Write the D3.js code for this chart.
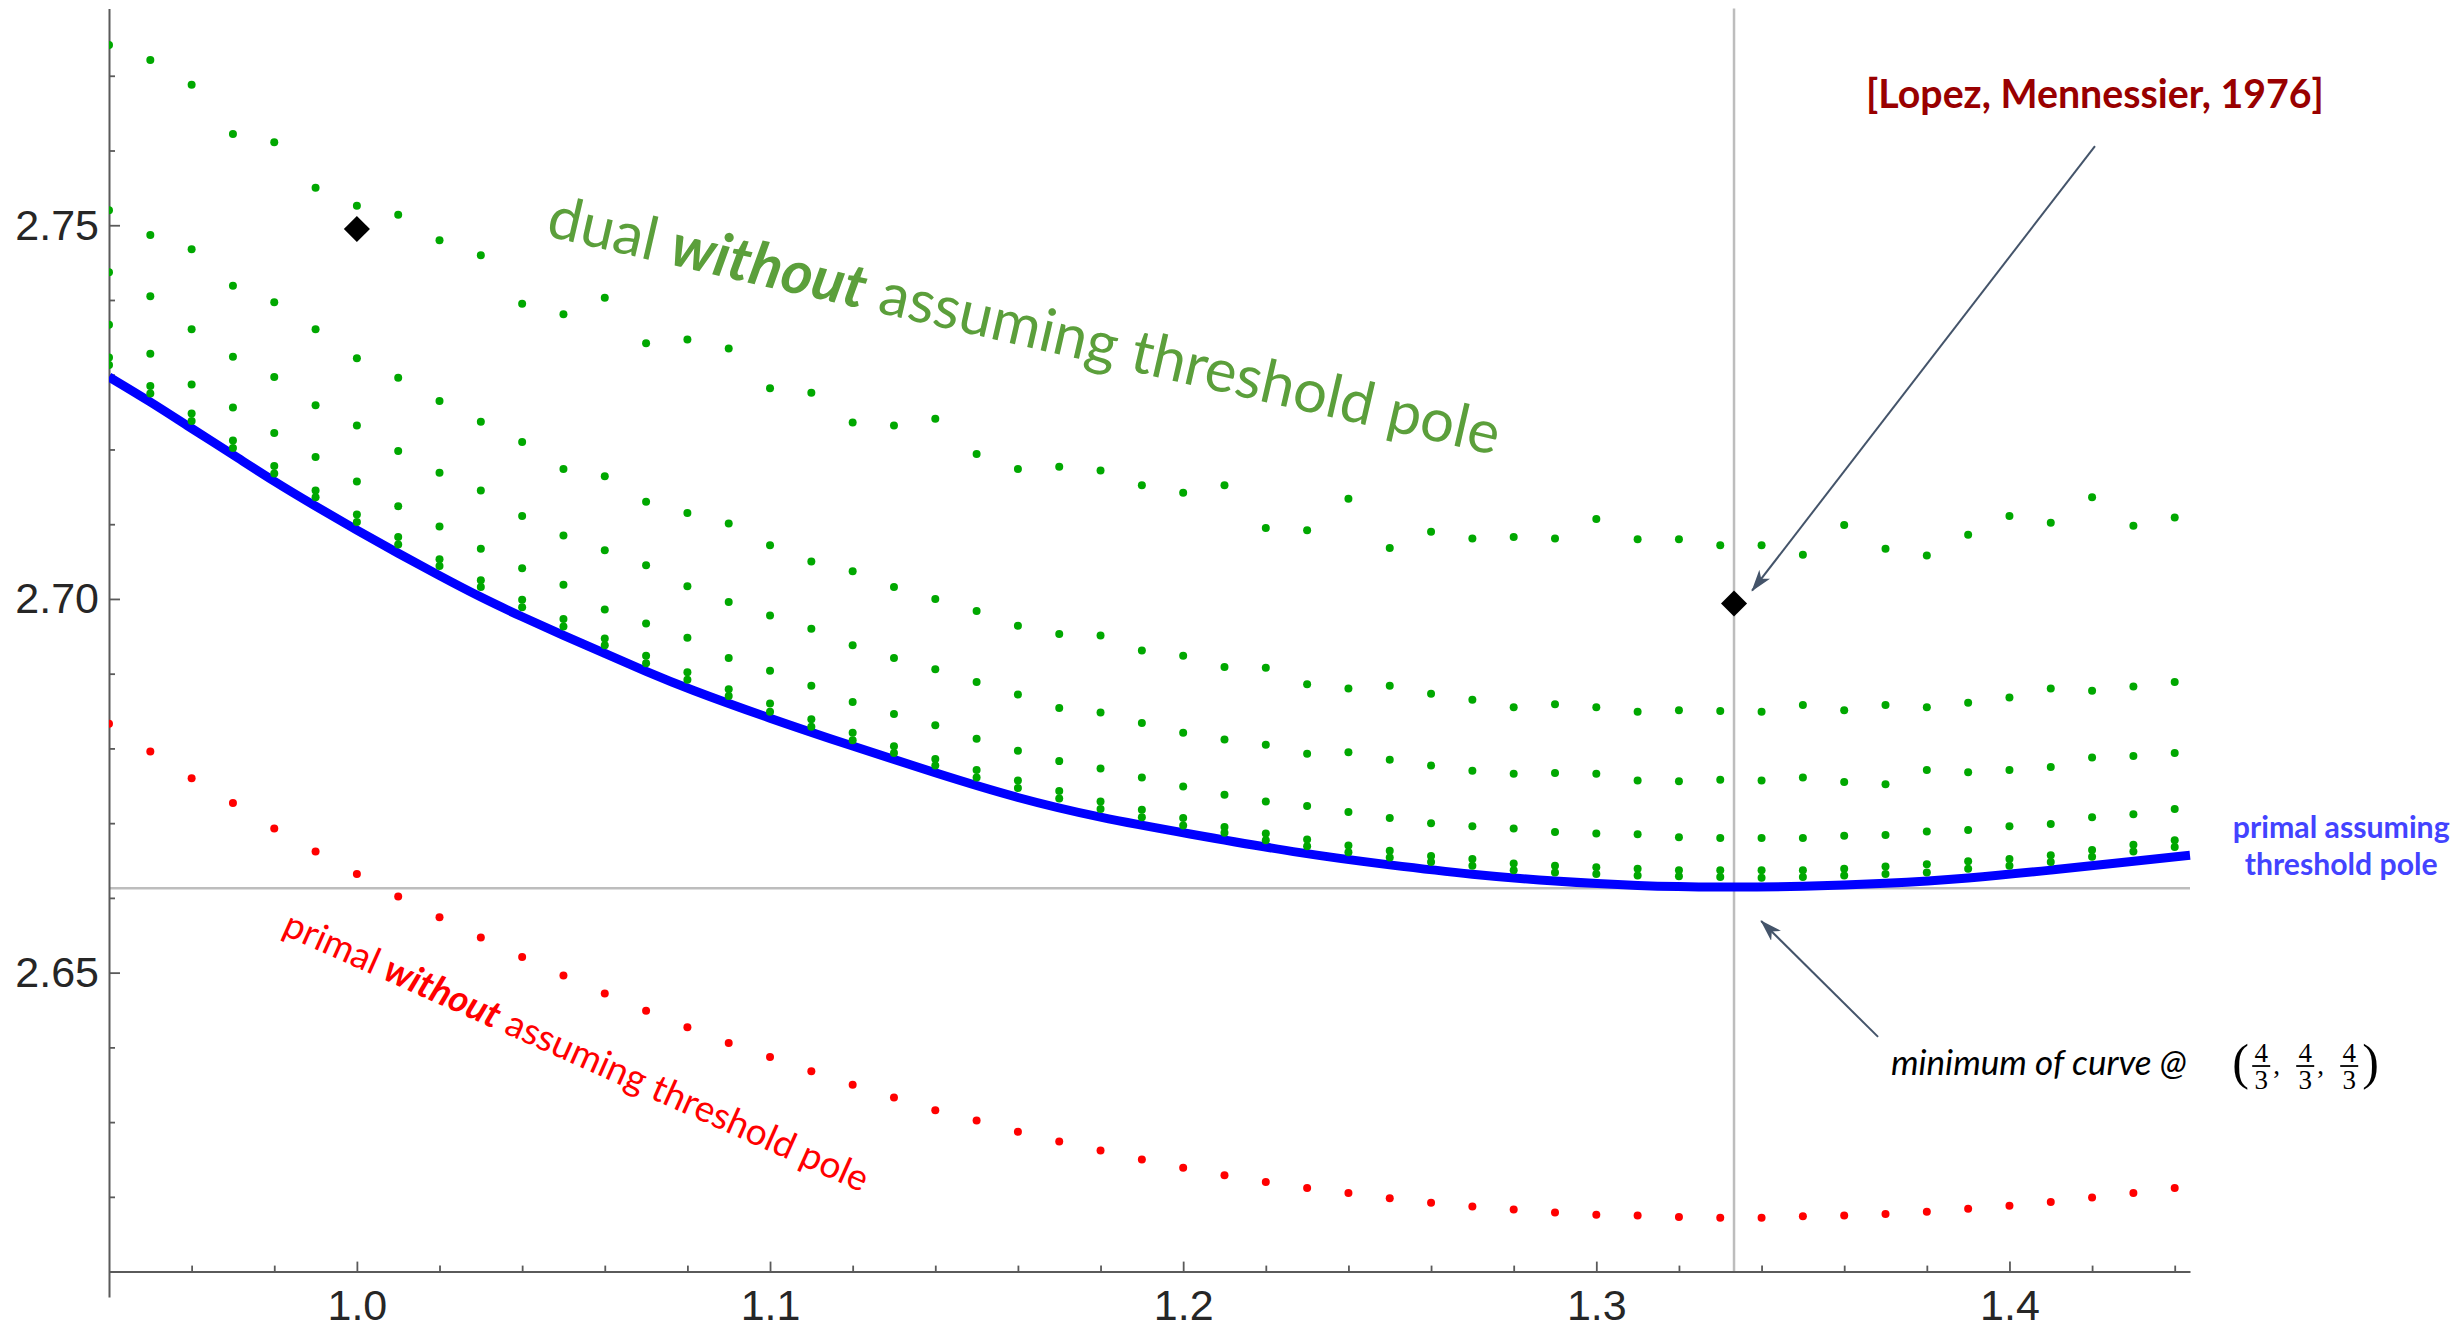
<!DOCTYPE html>
<html>
<head>
<meta charset="utf-8">
<script src="https://cdn.jsdelivr.net/npm/d3@7"></script>
<style>
  html, body { margin: 0; padding: 0; background: #fff; }
  svg { display: block; }
</style>
</head>
<body>
<div id="chart"></div>
<script>
// x grid shared by all dotted series
var xGrid = [0.94, 0.95, 0.96, 0.97, 0.98, 0.99, 1.00, 1.01, 1.02, 1.03,
             1.04, 1.05, 1.06, 1.07, 1.08, 1.09, 1.10, 1.11, 1.12, 1.13,
             1.14, 1.15, 1.16, 1.17, 1.18, 1.19, 1.20, 1.21, 1.22, 1.23,
             1.24, 1.25, 1.26, 1.27, 1.28, 1.29, 1.30, 1.31, 1.32, 1.33,
             1.34, 1.35, 1.36, 1.37, 1.38, 1.39, 1.40, 1.41, 1.42, 1.43, 1.44];

// dual bounds without threshold pole, top (coarsest) to bottom
var dual1 = [2.7741, 2.7721, 2.7688, 2.7622, 2.7611, 2.7550, 2.7526, 2.7514, 2.7480, 2.7460,
             2.7395, 2.7381, 2.7403, 2.7342, 2.7347, 2.7335, 2.7282, 2.7276, 2.7236, 2.7232,
             2.7241, 2.7194, 2.7174, 2.7177, 2.7172, 2.7152, 2.7142, 2.7152, 2.7095, 2.7092,
             2.7134, 2.7068, 2.7090, 2.7081, 2.7083, 2.7081, 2.7107, 2.7080, 2.7080, 2.7072,
             2.7072, 2.7059, 2.7099, 2.7067, 2.7058, 2.7086, 2.7111, 2.7102, 2.7136, 2.7098, 2.7109];
var dual2 = [2.7520, 2.7487, 2.7468, 2.7419, 2.7397, 2.7361, 2.7322, 2.7296, 2.7265, 2.7237,
             2.7210, 2.7174, 2.7164, 2.7130, 2.7115, 2.7101, 2.7072, 2.7050, 2.7037, 2.7016,
             2.7000, 2.6984, 2.6964, 2.6953, 2.6951, 2.6931, 2.6924, 2.6909, 2.6908, 2.6886,
             2.6880, 2.6884, 2.6873, 2.6865, 2.6855, 2.6859, 2.6855, 2.6849, 2.6851, 2.6850,
             2.6849, 2.6858, 2.6851, 2.6858, 2.6855, 2.6861, 2.6868, 2.6880, 2.6877, 2.6883, 2.6889];
var dual3 = [2.7437, 2.7405, 2.7361, 2.7324, 2.7297, 2.7259, 2.7232, 2.7198, 2.7169, 2.7145,
             2.7111, 2.7085, 2.7065, 2.7045, 2.7017, 2.6996, 2.6978, 2.6960, 2.6938, 2.6921,
             2.6906, 2.6889, 2.6872, 2.6854, 2.6848, 2.6834, 2.6821, 2.6812, 2.6805, 2.6793,
             2.6795, 2.6785, 2.6777, 2.6770, 2.6766, 2.6767, 2.6766, 2.6757, 2.6756, 2.6758,
             2.6757, 2.6761, 2.6755, 2.6752, 2.6771, 2.6768, 2.6771, 2.6775, 2.6788, 2.6790, 2.6794];
var dual4 = [2.7367, 2.7328, 2.7287, 2.7256, 2.7222, 2.7190, 2.7157, 2.7124, 2.7097, 2.7067,
             2.7041, 2.7019, 2.6986, 2.6967, 2.6948, 2.6921, 2.6904, 2.6884, 2.6862, 2.6846,
             2.6831, 2.6813, 2.6797, 2.6783, 2.6773, 2.6761, 2.6749, 2.6738, 2.6729, 2.6723,
             2.6715, 2.6707, 2.6700, 2.6696, 2.6693, 2.6688, 2.6686, 2.6685, 2.6681, 2.6680,
             2.6680, 2.6680, 2.6683, 2.6684, 2.6689, 2.6691, 2.6696, 2.6699, 2.6708, 2.6712, 2.6719];
var dual5 = [2.7323, 2.7285, 2.7248, 2.7212, 2.7178, 2.7145, 2.7113, 2.7083, 2.7053, 2.7025,
             2.6999, 2.6973, 2.6947, 2.6924, 2.6902, 2.6879, 2.6860, 2.6839, 2.6821, 2.6803,
             2.6786, 2.6771, 2.6757, 2.6743, 2.6729, 2.6718, 2.6707, 2.6695, 2.6686, 2.6678,
             2.6670, 2.6663, 2.6656, 2.6652, 2.6646, 2.6643, 2.6641, 2.6639, 2.6637, 2.6637,
             2.6637, 2.6637, 2.6639, 2.6642, 2.6645, 2.6649, 2.6652, 2.6657, 2.6664, 2.6671, 2.6677];
var dual6 = [2.7313, 2.7275, 2.7238, 2.7202, 2.7168, 2.7136, 2.7103, 2.7073, 2.7044, 2.7016,
             2.6989, 2.6963, 2.6938, 2.6914, 2.6892, 2.6870, 2.6849, 2.6829, 2.6811, 2.6794,
             2.6777, 2.6761, 2.6747, 2.6733, 2.6719, 2.6708, 2.6697, 2.6687, 2.6677, 2.6669,
             2.6661, 2.6654, 2.6648, 2.6643, 2.6637, 2.6634, 2.6632, 2.6630, 2.6629, 2.6628,
             2.6627, 2.6628, 2.6630, 2.6632, 2.6634, 2.6639, 2.6643, 2.6648, 2.6655, 2.6662, 2.6668];

// primal without threshold pole (red)
var primalNoPole = [2.6833, 2.6796, 2.6760, 2.6727, 2.6693, 2.6662, 2.6632, 2.6602, 2.6574, 2.6547,
                    2.6521, 2.6496, 2.6472, 2.6449, 2.6427, 2.6406, 2.6387, 2.6368, 2.6350, 2.6333,
                    2.6316, 2.6302, 2.6287, 2.6274, 2.6262, 2.6250, 2.6239, 2.6229, 2.6220, 2.6212,
                    2.6205, 2.6198, 2.6192, 2.6187, 2.6183, 2.6179, 2.6176, 2.6175, 2.6173, 2.6172,
                    2.6172, 2.6174, 2.6175, 2.6177, 2.6180, 2.6184, 2.6188, 2.6193, 2.6199, 2.6205, 2.6212];

// primal assuming threshold pole (blue curve)
var poleCurveX = [0.94, 0.95, 0.96, 0.97, 0.98, 0.99, 1.00, 1.01, 1.02, 1.03, 1.04, 1.05, 1.06, 1.07, 1.08,
                  1.10, 1.12, 1.14, 1.16, 1.18, 1.20, 1.23, 1.25, 1.27, 1.29, 1.31, 1.33, 1.35, 1.37,
                  1.39, 1.41, 1.43, 1.4437];
var poleCurveY = [2.7297, 2.7264, 2.7228, 2.7193, 2.7157, 2.7124, 2.7092, 2.7061, 2.7031, 2.7002, 2.6976,
                  2.6951, 2.6927, 2.6903, 2.6880, 2.6840, 2.6803, 2.6767, 2.6733, 2.6707, 2.6687, 2.6658,
                  2.6644, 2.6631, 2.6622, 2.6616, 2.6614, 2.6615, 2.6619, 2.6626, 2.6637, 2.6649, 2.6657];

var lopezX = [1.0, 4 / 3];
var lopezY = [2.7495, 2.6994];
var curveMinX = 4 / 3;
var curveMinY = 2.6613;

var xMajor = [1.0, 1.1, 1.2, 1.3, 1.4];
var xMinor = [0.96, 0.98, 1.02, 1.04, 1.06, 1.08, 1.12, 1.14, 1.16, 1.18, 1.22, 1.24, 1.26, 1.28,
              1.32, 1.34, 1.36, 1.38, 1.42, 1.44];
var yMajor = [2.65, 2.70, 2.75];
var yMinor = [2.62, 2.63, 2.64, 2.66, 2.67, 2.68, 2.69, 2.71, 2.72, 2.73, 2.74, 2.76, 2.77];

var width = 2464, height = 1330;
var x = d3.scaleLinear().domain([0.94, 1.4437]).range([109, 2190]);
var y = d3.scaleLinear().domain([2.6066, 2.779]).range([1297, 8.5]);
var xAxisAt = 2.61;

var svg = d3.select('#chart').append('svg').attr('width', width).attr('height', height).style('background', '#fff');

var defs = svg.append('defs');
defs.append('clipPath').attr('id', 'plot-clip').append('rect')
    .attr('x', x(0.94)).attr('y', 0).attr('width', x(1.4437) - x(0.94) + 10).attr('height', y(2.6066));
defs.append('marker').attr('id', 'arrow').attr('viewBox', '0 0 22 14').attr('refX', 21).attr('refY', 7)
    .attr('markerWidth', 22).attr('markerHeight', 14).attr('markerUnits', 'userSpaceOnUse').attr('orient', 'auto')
    .append('path').attr('d', 'M0,0 L22,7 L0,14 L6,7 Z').attr('fill', '#44546a');

// reference lines through the curve minimum
svg.append('line').attr('x1', x(0.94)).attr('x2', x(1.4437)).attr('y1', y(curveMinY)).attr('y2', y(curveMinY))
    .attr('stroke', '#bdbdbd').attr('stroke-width', 2.5);
svg.append('line').attr('x1', x(curveMinX)).attr('x2', x(curveMinX)).attr('y1', y(2.779)).attr('y2', y(xAxisAt))
    .attr('stroke', '#bdbdbd').attr('stroke-width', 2.5);

// axes
var axisFont = '"Liberation Sans", Arial, sans-serif';
var gx = svg.append('g').attr('transform', 'translate(0,' + y(xAxisAt) + ')');
gx.call(d3.axisBottom(x).tickValues(xMajor).tickSize(-10).tickSizeOuter(0).tickPadding(18).tickFormat(d3.format('.1f')));
gx.append('g').call(d3.axisBottom(x).tickValues(xMinor).tickSize(-6).tickSizeOuter(0).tickFormat(''))
    .select('.domain').remove();
var gy = svg.append('g').attr('transform', 'translate(' + x(0.94) + ',0)');
gy.call(d3.axisLeft(y).tickValues(yMajor).tickSize(-11).tickSizeOuter(0).tickPadding(10).tickFormat(d3.format('.2f')));
gy.append('g').call(d3.axisLeft(y).tickValues(yMinor).tickSize(-6).tickSizeOuter(0).tickFormat(''))
    .select('.domain').remove();
svg.selectAll('.domain').attr('stroke', '#5a5a5a').attr('stroke-width', 2);
svg.selectAll('.tick line').attr('stroke', '#5a5a5a').attr('stroke-width', 1.8);
svg.selectAll('.tick text').attr('font-family', axisFont).attr('font-size', 43).attr('fill', '#262626');

var plot = svg.append('g').attr('clip-path', 'url(#plot-clip)');

// blue curve
var curvePts = poleCurveX.map(function(d, i) { return [d, poleCurveY[i]]; });
plot.append('path').datum(curvePts)
    .attr('d', d3.line().x(function(d) { return x(d[0]); }).y(function(d) { return y(d[1]); }).curve(d3.curveBasis))
    .attr('fill', 'none').attr('stroke', '#0000ff').attr('stroke-width', 9);

// dotted series
function drawDots(values, color) {
    plot.append('g').selectAll('circle').data(values).enter().append('circle')
        .attr('cx', function(d, i) { return x(xGrid[i]); })
        .attr('cy', function(d) { return y(d); })
        .attr('r', 4).attr('fill', color);
}
[dual1, dual2, dual3, dual4, dual5, dual6].forEach(function(s) { drawDots(s, '#00a800'); });
drawDots(primalNoPole, '#ff0000');

// Lopez & Mennessier points
svg.selectAll('.lopez').data(lopezX).enter().append('path').attr('class', 'lopez')
    .attr('d', d3.symbol().type(d3.symbolSquare).size(340))
    .attr('transform', function(d, i) { return 'translate(' + x(d) + ',' + y(lopezY[i]) + ') rotate(45)'; })
    .attr('fill', '#000');

// annotations
var labelFont = 'Lato, "Open Sans", sans-serif';
function fit(sel, target) {
    var w = sel.node().getComputedTextLength();
    if (w > 0) sel.attr('font-size', +sel.attr('font-size') * target / w);
}

var lopezLab = svg.append('text').attr('x', x(1.4207)).attr('y', y(2.7657)).attr('text-anchor', 'middle')
    .attr('font-family', labelFont).attr('font-weight', 'bold').attr('font-size', 40).attr('fill', '#990000')
    .text('[Lopez, Mennessier, 1976]');
fit(lopezLab, 458);
svg.append('line').attr('x1', x(1.4207)).attr('y1', y(2.7606)).attr('x2', x(1.3377)).attr('y2', y(2.7011))
    .attr('stroke', '#44546a').attr('stroke-width', 2).attr('marker-end', 'url(#arrow)');

svg.append('line').attr('x1', x(1.3682)).attr('y1', y(2.6414)).attr('x2', x(1.3399)).attr('y2', y(2.6569))
    .attr('stroke', '#44546a').attr('stroke-width', 2).attr('marker-end', 'url(#arrow)');
var minLab = svg.append('text').attr('x', x(1.3713)).attr('y', y(2.6363))
    .attr('font-family', labelFont).attr('font-style', 'italic').attr('font-size', 30).attr('fill', '#000')
    .text('minimum of curve @');
fit(minLab, 296);

// (4/3, 4/3, 4/3)
var mathFont = '"Liberation Serif", "DejaVu Serif", serif';
var mg = svg.append('g').attr('transform', 'translate(' + x(1.4544) + ',' + y(2.6359) + ')')
    .attr('font-family', mathFont).attr('fill', '#000');
mg.append('text').attr('x', -2).attr('y', 1).attr('font-size', 50).text('(');
[27, 71, 115].forEach(function(cx, i) {
    mg.append('text').attr('x', cx).attr('y', -16).attr('text-anchor', 'middle').attr('font-size', 27).text('4');
    mg.append('line').attr('x1', cx - 9).attr('x2', cx + 9).attr('y1', -12).attr('y2', -12).attr('stroke', '#000').attr('stroke-width', 1.8);
    mg.append('text').attr('x', cx).attr('y', 11).attr('text-anchor', 'middle').attr('font-size', 27).text('3');
    if (i < 2) mg.append('text').attr('x', cx + 12).attr('y', -4).attr('font-size', 27).text(',');
});
mg.append('text').attr('x', 128).attr('y', 1).attr('font-size', 50).text(')');

var blueLab1 = svg.append('text').attr('x', x(1.4803)).attr('y', y(2.6680)).attr('text-anchor', 'middle')
    .attr('font-family', labelFont).attr('font-weight', 'bold').attr('font-size', 30).attr('fill', '#4343ff')
    .text('primal assuming');
fit(blueLab1, 217);
var blueLab2 = svg.append('text').attr('x', x(1.4803)).attr('y', y(2.6631)).attr('text-anchor', 'middle')
    .attr('font-family', labelFont).attr('font-weight', 'bold').attr('font-size', 30).attr('fill', '#4343ff')
    .text('threshold pole');
fit(blueLab2, 193);

var dualLab = svg.append('text')
    .attr('transform', 'translate(' + x(1.0455) + ',' + y(2.7486) + ') rotate(13)')
    .attr('font-family', labelFont).attr('font-size', 56).attr('fill', '#5b9f3b');
dualLab.append('tspan').text('dual ');
dualLab.append('tspan').attr('font-weight', 'bold').attr('font-style', 'italic').text('without');
dualLab.append('tspan').text(' assuming threshold pole');
fit(dualLab, 975);

var redLab = svg.append('text')
    .attr('transform', 'translate(' + x(0.9816) + ',' + y(2.6552) + ') rotate(24)')
    .attr('font-family', labelFont).attr('font-size', 38).attr('fill', '#ff0000');
redLab.append('tspan').text('primal ');
redLab.append('tspan').attr('font-weight', 'bold').attr('font-style', 'italic').text('without');
redLab.append('tspan').text(' assuming threshold pole');
fit(redLab, 636);
</script>
</body>
</html>
